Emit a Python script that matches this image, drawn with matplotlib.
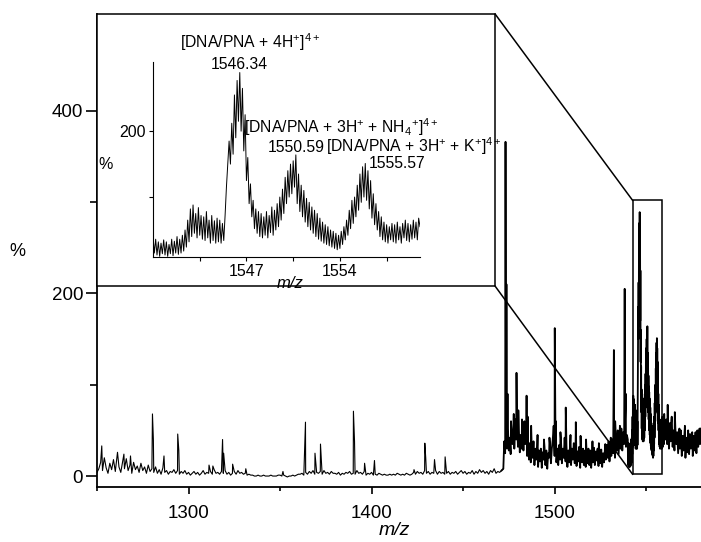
import numpy as np
import matplotlib
matplotlib.use("Agg")
import matplotlib.pyplot as plt
from matplotlib.patches import Rectangle

plt.rcParams['font.family'] = ['Liberation Sans', 'DejaVu Sans']
plt.rcParams['mathtext.fontset'] = 'custom'
plt.rcParams['mathtext.rm'] = 'Liberation Sans'
plt.rcParams['mathtext.it'] = 'Liberation Sans:italic'

# ---- data ----
# baseline, 1 unit steps from m/z 1250
base_low = [4, 8, 15, 6, 20, 9, 3, 14, 7, 18, 5, 22, 10, 4, 16, 8, 19, 6, 12, 3, 15,
            7, 11, 4, 14, 6, 10, 3, 12, 5, 8, 4, 10, 3, 7, 2, 9, 4, 6, 2, 5,
            4, 7, 3, 6, 2, 5, 3, 6, 2, 4, 1, 3, 5, 2, 4, 1, 3, 6, 2, 4, 3, 5, 2, 7,
            3, 4, 2, 5, 3, 6, 2, 4, 1, 3, 5, 2, 6, 3, 4, 2, 3, 1, 2, 1, 1,
            0, 0, 1, 0, 0, 1, 0, 0, 0, 1, 0, 0, 0, 1, 1, 0, 1, 0, -1, 0, 0, 1, 0, 1, 2,
            2, 3, 1, 4, 2, 5, 3, 6, 2, 4, 3, 5, 2, 6, 3, 4, 2, 5, 3, 3, 2, 4, 1, 3, 2,
            4, 3, 5, 2, 3, 2, 6, 3, 4, 2, 5, 1, 3, 2, 4, 1, 2, 1, 3, 2, 1, 2, 1, 1, 2,
            1, 2, 1, 3, 2, 1, 2, 1, 3, 2, 1, 2, 4, 2, 5, 3, 4, 2, 6, 3, 5, 2, 4, 3, 6,
            2, 5, 3, 4, 2, 3, 5, 2, 4, 3, 5, 2, 4, 6, 3, 5, 2, 4, 3, 6, 2, 5, 3, 7, 4,
            6, 3, 5, 2, 6, 4, 8, 3, 5, 4, 6]
# noisy baseline, 0.5 unit steps from m/z 1472
base_mid = [8, 38, 25, 45, 30, 52, 28, 42, 24, 48,
            35, 55, 30, 62, 40, 58, 32, 50, 26, 45,
            30, 52, 28, 60, 35, 48, 22, 40, 18, 36,
            15, 32, 20, 38, 12, 30, 18, 34, 10, 28,
            16, 30, 9, 26, 18, 32, 12, 28, 8, 25,
            20, 35, 14, 30, 40, 55, 22, 38, 15, 30,
            12, 34, 18, 40, 14, 30, 20, 42, 16, 33,
            10, 28, 15, 35, 12, 30, 18, 36, 14, 38,
            11, 27, 16, 32, 9, 25, 15, 30, 12, 28,
            10, 26, 14, 30, 12, 28, 9, 24, 15, 31,
            12, 27, 17, 30, 11, 26, 14, 29, 10, 25,
            15, 30, 18, 34, 20, 38, 16, 32, 22, 40,
            25, 45, 20, 42, 28, 50, 24, 46, 30, 52,
            28, 48, 35, 60, 32, 45]
# zoomed region, 0.1 unit steps from m/z 1540
fine_vals = [40, 15, 36, 12, 32, 10, 30, 14, 35, 12,
             32, 10, 28, 14, 36, 11, 33, 15, 40, 13,
             36, 15, 42, 18, 50, 24, 65, 32, 82, 40,
             88, 45, 75, 38, 84, 42, 72, 36, 70, 34,
             78, 38, 65, 30, 72, 34, 64, 30, 68, 32,
             65, 30, 60, 34, 72, 115, 150, 185, 150, 212,
             165, 255, 190, 277, 215, 289, 200, 265, 170, 225,
             125, 160, 90, 120, 70, 95, 52, 82, 45, 78,
             40, 75, 38, 70, 42, 78, 38, 72, 46, 85,
             42, 80, 50, 90, 55, 100, 65, 112, 75, 130,
             90, 140, 100, 150, 105, 155, 115, 164, 90, 135,
             78, 118, 70, 110, 62, 98, 55, 92, 50, 85,
             45, 80, 40, 75, 36, 68, 33, 62, 30, 58,
             28, 55, 26, 50, 24, 48, 22, 45, 20, 42,
             22, 48, 28, 55, 35, 65, 42, 80, 52, 95,
             60, 100, 70, 118, 80, 135, 92, 146, 100, 151,
             95, 140, 82, 125, 68, 105, 58, 90, 50, 78,
             40, 70, 35, 62, 32, 58, 30, 55, 35, 60,
             32, 58, 30, 62, 35, 55, 30, 60, 38, 65,
             34, 60, 32, 58, 36, 65, 38, 62, 35, 68,
             55]
# noisy baseline, 0.5 unit steps from m/z 1560.5
base_high = [40, 62, 35, 55, 30, 58, 38, 65, 32, 50,
             28, 52, 35, 48, 25, 45, 30, 50, 22, 44,
             28, 48, 20, 42, 26, 50, 24, 46, 30, 40,
             22, 44, 28, 48, 25, 50, 32, 46, 35, 52]

peak_mz = [1252.6, 1261.2, 1264.7, 1268.3, 1280.3, 1280.8, 1286.6, 1294.1, 1294.7,
           1311.2, 1313.3, 1318.6, 1319.2, 1324.1, 1331.3, 1351.6, 1363.9, 1369.1,
           1372.1, 1390.1, 1390.7, 1396.2, 1401.6, 1423.2, 1429.1, 1429.6, 1434.4,
           1440.2, 1473.2, 1473.7, 1474.3, 1476.2, 1477.7, 1479.2, 1480.2, 1482.2,
           1484.7, 1485.3, 1487.2, 1490.7, 1494.2, 1497.2, 1500.1, 1500.7, 1503.2,
           1506.1, 1508.7, 1511.6, 1514.2, 1517.2, 1520.7, 1524.2, 1527.7, 1530.7,
           1532.4, 1533.1, 1535.7, 1538.3, 1538.9, 1561.8, 1563.7, 1565.7, 1568.2,
           1571.2, 1575.2, 1579.2]
peak_int = [33, 26, 24, 22, 68, 40, 22, 46, 28,
            12, 11, 40, 25, 13, 8, 5, 59, 25,
            35, 71, 38, 14, 17, 7, 36, 20, 18,
            21, 366, 210, 90, 60, 68, 113, 72, 62,
            88, 65, 55, 45, 40, 42, 162, 60, 48,
            75, 45, 59, 44, 40, 38, 36, 35, 42,
            138, 60, 55, 205, 90, 78, 58, 70, 52,
            55, 48, 52]

labels_inset = [r'[DNA/PNA + 4H$^{+}$]$^{4+}$',
                r'[DNA/PNA + 3H$^{+}$ + NH$_{4}$$^{+}$]$^{4+}$',
                r'[DNA/PNA + 3H$^{+}$ + K$^{+}$]$^{4+}$']
peak_labels = ['1546.34', '1550.59', '1555.57']

# ---- assemble the spectrum ----
mz = np.concatenate([1250 + np.arange(len(base_low)),
                     1472 + 0.5 * np.arange(len(base_mid)),
                     1540 + 0.1 * np.arange(len(fine_vals)),
                     1560.5 + 0.5 * np.arange(len(base_high)),
                     peak_mz])
inten = np.concatenate([base_low, base_mid, fine_vals, base_high, peak_int]).astype(float)
order = np.argsort(mz)
mz, inten = mz[order], inten[order]

fine_mz = 1540 + 0.1 * np.arange(len(fine_vals))

fig = plt.figure(figsize=(7.01, 5.42), dpi=100)
ax = fig.add_axes([97 / 701, 55 / 542, 604 / 701, 473 / 542])
lo = mz <= 1472
hi = mz >= 1471
ax.plot(mz[lo], inten[lo], color='black', lw=0.8)
ax.plot(mz[hi], inten[hi], color='black', lw=1.3)
ax.set_xlim(1250, 1580)
ax.set_ylim(-12, 506)
for s in ['top', 'right']:
    ax.spines[s].set_visible(False)
for s in ['left', 'bottom']:
    ax.spines[s].set_linewidth(1.3)
ax.set_xticks([1300, 1400, 1500])
ax.set_xticks([1250, 1350, 1450, 1550], minor=True)
ax.set_yticks([0, 200, 400])
ax.set_yticks([100, 300], minor=True)
ax.tick_params(axis='both', which='major', labelsize=13.5, width=1.2, direction='out')
ax.tick_params(axis='x', which='major', length=5, pad=8)
ax.tick_params(axis='x', which='minor', length=3, width=1.2)
ax.tick_params(axis='y', which='major', length=8, pad=2)
ax.tick_params(axis='y', which='minor', length=5, width=1.2)
ax.set_xlabel('m/z', fontsize=14, style='italic', va='center')
ax.xaxis.set_label_coords(0.493, -0.091)
ax.set_ylabel('%', fontsize=13, rotation=0, va='center', ha='center')
ax.yaxis.set_label_coords(-0.132, 0.497)

# zoom marker and inset frame
zoom_lo, zoom_hi, zoom_top = 1542.6, 1558.5, 302
box_right, box_bottom, box_top = 1467.5, 208, 506
ax.add_patch(Rectangle((zoom_lo, 2), zoom_hi - zoom_lo, zoom_top - 2,
                       fill=False, ec='black', lw=1.1, zorder=3))
box = Rectangle((1250, box_bottom), box_right - 1250, box_top - box_bottom,
                fc='white', ec='black', lw=1.1, zorder=3, clip_on=False)
ax.add_patch(box)
ax.plot([box_right, zoom_lo], [box_top, zoom_top], color='black', lw=1.1, zorder=3,
        clip_on=False)
ax.plot([box_right, zoom_lo], [box_bottom, 2], color='black', lw=1.1, zorder=3)

# inset
ins = fig.add_axes([153 / 701, 285 / 542, 267 / 701, 195 / 542])
ins.patch.set_alpha(0)
ins.plot(fine_mz, fine_vals, color='black', lw=0.7)
ins.set_xlim(1540, 1560)
ins.set_ylim(9, 305)
for s in ['top', 'right']:
    ins.spines[s].set_visible(False)
for s in ['left', 'bottom']:
    ins.spines[s].set_linewidth(0.8)
ins.set_xticks([1543.5, 1547, 1550.5, 1554, 1557.5])
ins.set_xticklabels(['', '1547', '', '1554', ''])
ins.set_yticks([100, 200])
ins.set_yticklabels(['', '200'])
ins.tick_params(labelsize=11.5, length=3, width=0.8, pad=2)
ins.set_xlabel('m/z', fontsize=12, style='italic', va='center')
ins.xaxis.set_label_coords(0.513, -0.135)
ins.set_ylabel('%', fontsize=11.5, rotation=0, va='center', ha='center')
ins.yaxis.set_label_coords(-0.176, 0.472)

fs = 11.3
ins.text(1547.3, 326, labels_inset[0], fontsize=fs, ha='center', va='baseline', clip_on=False)
ins.text(1546.5, 295, peak_labels[0], fontsize=fs, ha='center', va='baseline', clip_on=False)
ins.text(1554.1, 197, labels_inset[1], fontsize=fs, ha='center', va='baseline', clip_on=False)
ins.text(1550.75, 168, peak_labels[1], fontsize=fs, ha='center', va='baseline', clip_on=False)
ins.text(1552.95, 168, labels_inset[2], fontsize=fs, ha='left', va='baseline', clip_on=False)
ins.text(1558.3, 144, peak_labels[2], fontsize=fs, ha='center', va='baseline', clip_on=False)

fig.savefig('out.png', dpi=100)
